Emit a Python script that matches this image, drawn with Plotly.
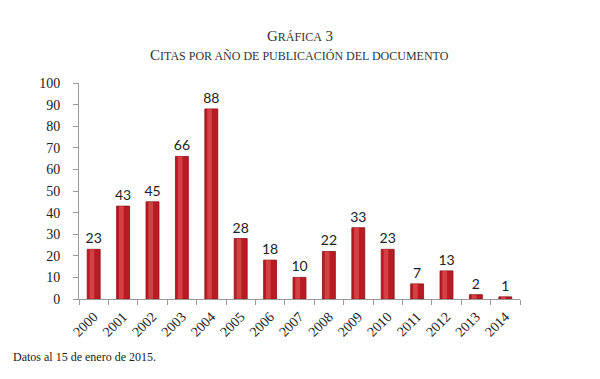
import plotly.graph_objects as go

years = ["2000", "2001", "2002", "2003", "2004", "2005", "2006", "2007",
         "2008", "2009", "2010", "2011", "2012", "2013", "2014"]
citas = [23, 43, 45, 66, 88, 28, 18, 10, 22, 33, 23, 7, 13, 2, 1]
y_ticks = [0, 10, 20, 30, 40, 50, 60, 70, 80, 90, 100]

serif = "Liberation Serif, DejaVu Serif, serif"
sans = "Lato, Open Sans, sans-serif"

fig = go.Figure()
fig.add_trace(go.Bar(
    x=years, y=citas,
    marker=dict(color="#b81c22", line=dict(color="#8a1015", width=0.8)),
    text=[str(v) for v in citas], textposition="outside",
    constraintext="none",
    textfont=dict(family=sans, size=14, color="#222"),
    cliponaxis=False, width=0.44, hoverinfo="skip",
))
# highlight stripe for cylinder look
fig.add_trace(go.Bar(
    x=years, y=citas,
    marker=dict(color="rgba(235,95,95,0.55)", line=dict(width=0)),
    width=0.16, offset=-0.14, hoverinfo="skip",
))

fig.update_layout(
    width=600, height=379,
    margin=dict(l=71, r=88, t=75, b=88, autoexpand=False),
    paper_bgcolor="white", plot_bgcolor="white",
    showlegend=False, barmode="overlay",
    xaxis=dict(
        type="category", showline=True, linecolor="#9a9a9a", linewidth=1,
        ticks="outside", tickson="boundaries", ticklen=5, tickcolor="#9a9a9a",
        tickangle=-45, tickfont=dict(family=serif, size=14, color="#222"),
        showgrid=False, automargin=False, ticklabelstandoff=3,
    ),
    yaxis=dict(
        range=[0, 100], tickvals=y_ticks, showline=True, linecolor="#9a9a9a",
        linewidth=1, ticks="outside", ticklen=5, tickcolor="#9a9a9a",
        tickfont=dict(family=serif, size=14, color="#222"), showgrid=False,
        zeroline=False, automargin=False, ticklabelstandoff=10,
    ),
)

fig.add_annotation(
    text="G<span style='font-size:12px'>RÁFICA</span> 3",
    xref="paper", yref="paper", x=0.5, y=1.0, yshift=47,
    showarrow=False, font=dict(family=serif, size=15, color="#333"),
    xanchor="center", yanchor="middle",
)
fig.add_annotation(
    text="C<span style='font-size:12px'>ITAS POR AÑO DE PUBLICACIÓN DEL DOCUMENTO</span>",
    xref="paper", yref="paper", x=0.5, y=1.0, yshift=28,
    showarrow=False, font=dict(family=serif, size=15, color="#333"),
    xanchor="center", yanchor="middle",
)
fig.add_annotation(
    text="Datos al 15 de enero de 2015.",
    xref="paper", yref="paper", x=0, xshift=-68, y=0, yshift=-58,
    showarrow=False, font=dict(family=serif, size=12, color="#222"),
    xanchor="left", yanchor="middle",
)

fig.write_html("out.html")
